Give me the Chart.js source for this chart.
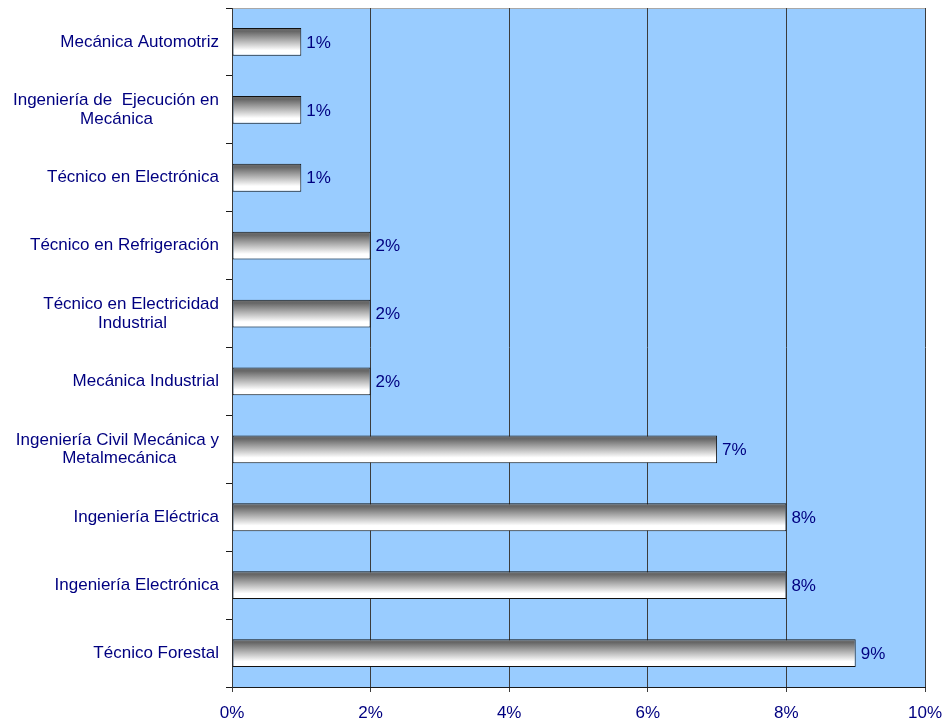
<!DOCTYPE html>
<html><head><meta charset="utf-8">
<script src="https://cdn.jsdelivr.net/npm/chart.js@4/dist/chart.umd.min.js"></script>
<style>html,body{margin:0;padding:0;background:#fff}#wrap{width:944px;height:724px}</style>
</head><body><div id="wrap"><canvas id="c" width="944" height="724"></canvas></div>
<script>
const categories = [
  ['Mecánica Automotriz'],
  ['Ingeniería de  Ejecución en', 'Mecánica'],
  ['Técnico en Electrónica'],
  ['Técnico en Refrigeración'],
  ['Técnico en Electricidad', 'Industrial'],
  ['Mecánica Industrial'],
  ['Ingeniería Civil Mecánica y', 'Metalmecánica'],
  ['Ingeniería Eléctrica'],
  ['Ingeniería Electrónica'],
  ['Técnico Forestal']
];
const values = [1, 1, 1, 2, 2, 2, 7, 8, 8, 9];
const valueLabels = ['1%', '1%', '1%', '2%', '2%', '2%', '7%', '8%', '8%', '9%'];
const xTicks = [0, 2, 4, 6, 8, 10];

const FONT = "'Liberation Sans', Arial, sans-serif";
const FSIZE = 17;
const NAVY = '#000080';
const BAR_PCT = 0.41;

// center shorter lines of a wrapped label under its widest line (block right-aligned)
const mctx = document.createElement('canvas').getContext('2d');
mctx.font = FSIZE + 'px ' + FONT;
const spaceW = mctx.measureText(' ').width;
const displayLabels = categories.map(lines => {
  if (lines.length === 1) return lines[0];
  const widths = lines.map(l => mctx.measureText(l).width);
  const widest = Math.max(...widths);
  return lines.map((l, i) => l + ' '.repeat(Math.max(0, Math.round((widest - widths[i]) / 2 / spaceW))));
});

const bgPlugin = {
  id: 'plotBg',
  beforeDraw(chart) {
    const {ctx, chartArea: a} = chart;
    ctx.save();
    ctx.fillStyle = '#99CCFF';
    ctx.fillRect(a.left, a.top, a.right - a.left, a.bottom - a.top);
    ctx.strokeStyle = '#a8a8a8';
    ctx.lineWidth = 1;
    ctx.beginPath();
    ctx.moveTo(a.left, a.top + 0.5);
    ctx.lineTo(a.right, a.top + 0.5);
    ctx.stroke();
    ctx.restore();
  }
};

const valuePlugin = {
  id: 'valueLabels',
  afterDatasetsDraw(chart) {
    const {ctx} = chart;
    const meta = chart.getDatasetMeta(0);
    ctx.save();
    ctx.font = FSIZE + 'px ' + FONT;
    ctx.fillStyle = NAVY;
    ctx.textAlign = 'left';
    ctx.textBaseline = 'middle';
    meta.data.forEach((bar, i) => {
      ctx.fillText(valueLabels[i], bar.x + 5, bar.y + 1);
    });
    ctx.restore();
  }
};

new Chart(document.getElementById('c'), {
  type: 'bar',
  data: {
    labels: displayLabels,
    datasets: [{
      data: values,
      borderColor: '#111111',
      borderWidth: 1,
      borderSkipped: false,
      barPercentage: BAR_PCT,
      categoryPercentage: 1,
      backgroundColor: (c) => {
        const chart = c.chart;
        if (!chart.chartArea || c.type !== 'data') return '#bbbbbb';
        const ys = chart.scales.y;
        const center = ys.getPixelForValue(c.dataIndex);
        const h = ys.height / categories.length * BAR_PCT;
        const g = chart.ctx.createLinearGradient(0, center - h / 2, 0, center + h / 2);
        g.addColorStop(0, '#707070');
        g.addColorStop(0.12, '#666666');
        g.addColorStop(0.8, '#ffffff');
        g.addColorStop(1, '#ffffff');
        return g;
      }
    }]
  },
  options: {
    indexAxis: 'y',
    responsive: false,
    animation: false,
    devicePixelRatio: 1,
    layout: {padding: {top: 8, right: 19, left: 0, bottom: 0}},
    plugins: {legend: {display: false}, tooltip: {enabled: false}},
    scales: {
      x: {
        min: 0, max: 10,
        afterBuildTicks: (s) => { s.ticks = xTicks.map(v => ({value: v})); },
        afterFit: (s) => { s.height = 37; s.paddingLeft = 0; s.paddingRight = 0; },
        ticks: {
          callback: (v) => v + '%',
          color: NAVY,
          font: {family: FONT, size: FSIZE},
          padding: 11,
          maxRotation: 0
        },
        grid: {color: '#3c3c3c', lineWidth: 1, tickLength: 5, drawTicks: true},
        border: {display: true, color: '#1a1a1a'}
      },
      y: {
        afterFit: (s) => { s.width = 232; s.paddingTop = 0; s.paddingBottom = 0; },
        ticks: {
          color: NAVY,
          font: {family: FONT, size: FSIZE, lineHeight: 1.1},
          padding: 7,
          crossAlign: 'near',
          autoSkip: false
        },
        grid: {display: true, offset: true, drawOnChartArea: false, drawTicks: true, tickLength: 6, color: '#1a1a1a'},
        border: {display: true, color: '#3a3a3a'}
      }
    }
  },
  plugins: [bgPlugin, valuePlugin]
});
</script>
</body></html>
